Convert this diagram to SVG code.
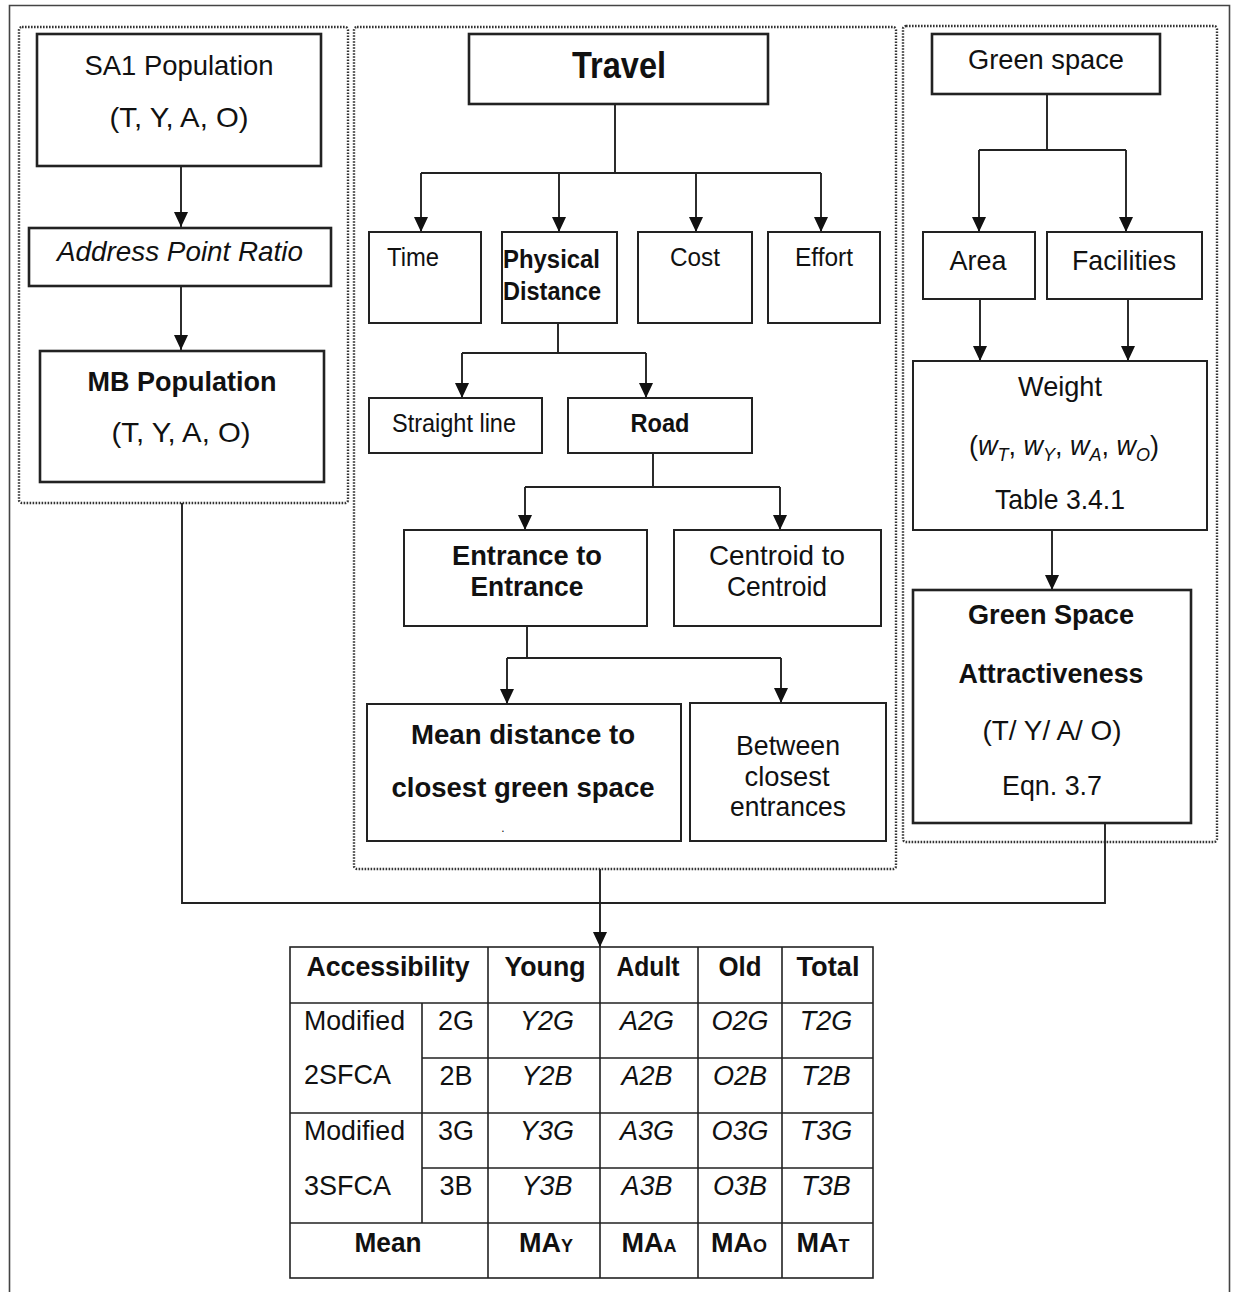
<svg xmlns="http://www.w3.org/2000/svg" width="1235" height="1292" viewBox="0 0 1235 1292">
  <style>
    .t { font-family: "Liberation Sans", Arial, sans-serif; font-size: 28.5px; fill: #111; }
    .m { font-size: 27px; }
    .s { font-size: 26px; }
    .b { font-weight: bold; }
    .i { font-style: italic; }
    .c { text-anchor: middle; }
    .box { fill: #fff; stroke: #222; stroke-width: 2; }
    .heavy { stroke-width: 2.6; }
    .panel { fill: none; stroke: #333; stroke-width: 2.4; stroke-dasharray: 1.6 1.4; }
    .frame { fill: none; stroke: #444; stroke-width: 1.6; }
    .wire { fill: none; stroke: #222; stroke-width: 1.9; }
    .arrow { fill: none; stroke: #222; stroke-width: 1.9; marker-end: url(#head); }
    .grid { fill: none; stroke: #222; stroke-width: 1.6; }
  </style>
  <defs>
    <marker id="head" markerUnits="userSpaceOnUse" markerWidth="14" markerHeight="15" refX="15" refY="7" orient="auto">
      <path d="M0,0 L15,7 L0,14 Z" fill="#111"/>
    </marker>
  </defs>

  <rect width="1235" height="1292" fill="#fff"/>

  <!-- outer frame (open at the bottom) -->
  <path class="frame" d="M9.5,1292 V5.5 H1229.5 V1292"/>

  <!-- dotted grouping panels -->
  <g id="panels">
    <rect class="panel" x="19" y="27" width="329" height="476" rx="3"/>
    <rect class="panel" x="354" y="27" width="542" height="842" rx="3"/>
    <rect class="panel" x="903" y="26" width="314" height="816" rx="3"/>
  </g>

  <!-- connectors -->
  <g id="connectors">
    <path class="arrow" d="M181,166 V227"/>
    <path class="arrow" d="M181,286 V350"/>

    <path class="wire" d="M615,104 V173 M421,173 H821"/>
    <path class="arrow" d="M421,173 V232"/>
    <path class="arrow" d="M559,173 V232"/>
    <path class="arrow" d="M696,173 V232"/>
    <path class="arrow" d="M821,173 V232"/>

    <path class="wire" d="M558,323 V353 M462,353 H646"/>
    <path class="arrow" d="M462,353 V398"/>
    <path class="arrow" d="M646,353 V398"/>

    <path class="wire" d="M653,453 V487 M525,487 H780"/>
    <path class="arrow" d="M525,487 V530"/>
    <path class="arrow" d="M780,487 V530"/>

    <path class="wire" d="M527,626 V658 M507,658 H781"/>
    <path class="arrow" d="M507,658 V704"/>
    <path class="arrow" d="M781,658 V703"/>

    <path class="wire" d="M1047,94 V150 M979,150 H1126"/>
    <path class="arrow" d="M979,150 V232"/>
    <path class="arrow" d="M1126,150 V232"/>
    <path class="arrow" d="M980,299 V361"/>
    <path class="arrow" d="M1128,299 V361"/>
    <path class="arrow" d="M1052,530 V590"/>

    <path class="wire" d="M182,503 V903 H1105 V823"/>
    <path class="arrow" d="M600,869 V947"/>
  </g>

  <!-- population column -->
  <g id="sa1-population">
    <rect class="box heavy" x="37" y="34" width="284" height="132"/>
    <text class="t c" x="179" y="75" textLength="189" lengthAdjust="spacingAndGlyphs">SA1 Population</text>
    <text class="t c" x="179" y="127" textLength="139" lengthAdjust="spacingAndGlyphs">(T, Y, A, O)</text>
  </g>
  <g id="address-point-ratio">
    <rect class="box heavy" x="29" y="228" width="302" height="58"/>
    <text class="t c i" x="180" y="261" textLength="246" lengthAdjust="spacingAndGlyphs">Address Point Ratio</text>
  </g>
  <g id="mb-population">
    <rect class="box heavy" x="40" y="351" width="284" height="131"/>
    <text class="t c b" x="182" y="391" textLength="189" lengthAdjust="spacingAndGlyphs">MB Population</text>
    <text class="t c" x="181" y="442" textLength="139" lengthAdjust="spacingAndGlyphs">(T, Y, A, O)</text>
  </g>

  <!-- travel column -->
  <g id="travel">
    <rect class="box heavy" x="469" y="34" width="299" height="70"/>
    <text class="t c b" x="619" y="78" style="font-size:36px" textLength="94" lengthAdjust="spacingAndGlyphs">Travel</text>
  </g>
  <g id="time">
    <rect class="box" x="369" y="232" width="112" height="91"/>
    <text class="t s" x="387" y="266" textLength="52" lengthAdjust="spacingAndGlyphs">Time</text>
  </g>
  <g id="physical-distance">
    <rect class="box" x="502" y="232" width="115" height="91"/>
    <text class="t s b" x="503" y="268" textLength="97" lengthAdjust="spacingAndGlyphs">Physical</text>
    <text class="t s b" x="503" y="300" textLength="98" lengthAdjust="spacingAndGlyphs">Distance</text>
  </g>
  <g id="cost">
    <rect class="box" x="638" y="232" width="114" height="91"/>
    <text class="t s c" x="695" y="266" textLength="50" lengthAdjust="spacingAndGlyphs">Cost</text>
  </g>
  <g id="effort">
    <rect class="box" x="768" y="232" width="112" height="91"/>
    <text class="t s c" x="824" y="266" textLength="58" lengthAdjust="spacingAndGlyphs">Effort</text>
  </g>
  <g id="straight-line">
    <rect class="box" x="369" y="398" width="173" height="55"/>
    <text class="t s c" x="454" y="432" textLength="124" lengthAdjust="spacingAndGlyphs">Straight line</text>
  </g>
  <g id="road">
    <rect class="box" x="568" y="398" width="184" height="55"/>
    <text class="t s c b" x="660" y="432" textLength="59" lengthAdjust="spacingAndGlyphs">Road</text>
  </g>
  <g id="entrance-to-entrance">
    <rect class="box" x="404" y="530" width="243" height="96"/>
    <text class="t c b" x="527" y="565" textLength="150" lengthAdjust="spacingAndGlyphs">Entrance to</text>
    <text class="t c b" x="527" y="596" textLength="113" lengthAdjust="spacingAndGlyphs">Entrance</text>
  </g>
  <g id="centroid-to-centroid">
    <rect class="box" x="674" y="530" width="207" height="96"/>
    <text class="t c" x="777" y="565" textLength="136" lengthAdjust="spacingAndGlyphs">Centroid to</text>
    <text class="t c" x="777" y="596" textLength="100" lengthAdjust="spacingAndGlyphs">Centroid</text>
  </g>
  <g id="mean-distance">
    <rect class="box" x="367" y="704" width="314" height="137"/>
    <text class="t c b" x="523" y="744" textLength="224" lengthAdjust="spacingAndGlyphs">Mean distance to</text>
    <text class="t c b" x="523" y="797" textLength="263" lengthAdjust="spacingAndGlyphs">closest green space</text>
    <text class="t c" x="503" y="832" style="font-size:12px">.</text>
  </g>
  <g id="closest-entrances">
    <rect class="box" x="690" y="703" width="196" height="138"/>
    <text class="t c" x="788" y="755" textLength="104" lengthAdjust="spacingAndGlyphs">Between</text>
    <text class="t c" x="787" y="786" textLength="85" lengthAdjust="spacingAndGlyphs">closest</text>
    <text class="t c" x="788" y="816" textLength="116" lengthAdjust="spacingAndGlyphs">entrances</text>
  </g>

  <!-- green space column -->
  <g id="green-space">
    <rect class="box heavy" x="932" y="34" width="228" height="60"/>
    <text class="t c" x="1046" y="69" textLength="156" lengthAdjust="spacingAndGlyphs">Green space</text>
  </g>
  <g id="area">
    <rect class="box" x="923" y="232" width="112" height="67"/>
    <text class="t c" x="978" y="270" textLength="57" lengthAdjust="spacingAndGlyphs">Area</text>
  </g>
  <g id="facilities">
    <rect class="box" x="1047" y="232" width="155" height="67"/>
    <text class="t c" x="1124" y="270" textLength="104" lengthAdjust="spacingAndGlyphs">Facilities</text>
  </g>
  <g id="weight">
    <rect class="box" x="913" y="361" width="294" height="169"/>
    <text class="t c" x="1060" y="396" textLength="84" lengthAdjust="spacingAndGlyphs">Weight</text>
    <text class="t c m" x="1064" y="455">(<tspan class="i">w</tspan><tspan class="i" style="font-size:18px" dy="6">T</tspan><tspan dy="-6">, </tspan><tspan class="i">w</tspan><tspan class="i" style="font-size:18px" dy="6">Y</tspan><tspan dy="-6">, </tspan><tspan class="i">w</tspan><tspan class="i" style="font-size:18px" dy="6">A</tspan><tspan dy="-6">, </tspan><tspan class="i">w</tspan><tspan class="i" style="font-size:18px" dy="6">O</tspan><tspan dy="-6">)</tspan></text>
    <text class="t c" x="1060" y="509" textLength="130" lengthAdjust="spacingAndGlyphs">Table 3.4.1</text>
  </g>
  <g id="green-space-attractiveness">
    <rect class="box heavy" x="913" y="590" width="278" height="233"/>
    <text class="t c b" x="1051" y="624" textLength="166" lengthAdjust="spacingAndGlyphs">Green Space</text>
    <text class="t c b" x="1051" y="683" textLength="185" lengthAdjust="spacingAndGlyphs">Attractiveness</text>
    <text class="t c" x="1052" y="740" textLength="139" lengthAdjust="spacingAndGlyphs">(T/ Y/ A/ O)</text>
    <text class="t c" x="1052" y="795" textLength="100" lengthAdjust="spacingAndGlyphs">Eqn. 3.7</text>
  </g>

  <!-- accessibility table -->
  <g id="accessibility-table">
    <rect class="grid" x="290" y="947" width="583" height="331"/>
    <path class="grid" d="M290,1003 H873 M422,1058 H873 M290,1113 H873 M422,1168 H873 M290,1223 H873
                          M422,1003 V1223 M488,947 V1278 M600,947 V1278 M698,947 V1278 M782,947 V1278"/>

    <text class="t c b" x="388" y="976" textLength="163" lengthAdjust="spacingAndGlyphs">Accessibility</text>
    <text class="t c b" x="545" y="976" textLength="81" lengthAdjust="spacingAndGlyphs">Young</text>
    <text class="t c b" x="648" y="976" textLength="63" lengthAdjust="spacingAndGlyphs">Adult</text>
    <text class="t c b" x="740" y="976" textLength="43" lengthAdjust="spacingAndGlyphs">Old</text>
    <text class="t c b" x="828" y="976" textLength="63" lengthAdjust="spacingAndGlyphs">Total</text>

    <text class="t" x="304" y="1030" textLength="101" lengthAdjust="spacingAndGlyphs">Modified</text>
    <text class="t" x="304" y="1084" textLength="87" lengthAdjust="spacingAndGlyphs">2SFCA</text>
    <text class="t" x="304" y="1140" textLength="101" lengthAdjust="spacingAndGlyphs">Modified</text>
    <text class="t" x="304" y="1195" textLength="87" lengthAdjust="spacingAndGlyphs">3SFCA</text>

    <text class="t c m" x="456" y="1030">2G</text>
    <text class="t c m" x="456" y="1085">2B</text>
    <text class="t c m" x="456" y="1140">3G</text>
    <text class="t c m" x="456" y="1195">3B</text>

    <text class="t c m i" x="547" y="1030">Y2G</text>
    <text class="t c m i" x="647" y="1030">A2G</text>
    <text class="t c m i" x="740" y="1030">O2G</text>
    <text class="t c m i" x="826" y="1030">T2G</text>
    <text class="t c m i" x="547" y="1085">Y2B</text>
    <text class="t c m i" x="647" y="1085">A2B</text>
    <text class="t c m i" x="740" y="1085">O2B</text>
    <text class="t c m i" x="826" y="1085">T2B</text>
    <text class="t c m i" x="547" y="1140">Y3G</text>
    <text class="t c m i" x="647" y="1140">A3G</text>
    <text class="t c m i" x="740" y="1140">O3G</text>
    <text class="t c m i" x="826" y="1140">T3G</text>
    <text class="t c m i" x="547" y="1195">Y3B</text>
    <text class="t c m i" x="647" y="1195">A3B</text>
    <text class="t c m i" x="740" y="1195">O3B</text>
    <text class="t c m i" x="826" y="1195">T3B</text>

    <text class="t c b" x="388" y="1252" textLength="67" lengthAdjust="spacingAndGlyphs">Mean</text>
    <text class="t c b m" x="546" y="1252">MA<tspan style="font-size:18px">Y</tspan></text>
    <text class="t c b m" x="649" y="1252">MA<tspan style="font-size:18px">A</tspan></text>
    <text class="t c b m" x="739" y="1252">MA<tspan style="font-size:18px">O</tspan></text>
    <text class="t c b m" x="823" y="1252">MA<tspan style="font-size:18px">T</tspan></text>
  </g>
</svg>
